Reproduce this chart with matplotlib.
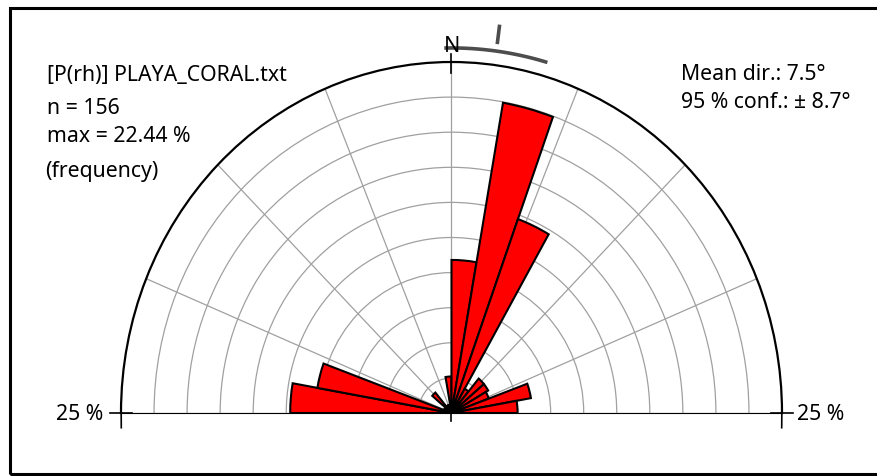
import numpy as np
import matplotlib
matplotlib.use("Agg")
import matplotlib.pyplot as plt
from matplotlib.patches import Rectangle

plt.rcParams['font.family'] = ['Noto Sans', 'DejaVu Sans']

# bin start angles (deg, -90 = W, 0 = N, 90 = E) and frequencies (%)
bin_start = [-90, -80, -70, -60, -50, -40, -30, -20, -10,
             0, 10, 20, 30, 40, 50, 60, 70, 80]
freq = [12.2, 10.3, 0.6, 0.6, 1.9, 0.6, 0.6, 0.6, 2.6,
        10.9, 22.44, 14.7, 2.0, 3.2, 3.2, 3.0, 6.1, 5.0]
bin_width = 10

file_label = "[P(rh)] PLAYA_CORAL.txt"
n_label = "n = 156"
max_label = "max = 22.44 %"
mean_dir = 7.5
conf = 8.7
r_max = 25

W, H = 878, 476
fig = plt.figure(figsize=(W / 100, H / 100), dpi=100)

# frame around the figure (open on the right side)
fig.patches.append(Rectangle((10 / W, 2.5 / H), 1.2, 466 / H, transform=fig.transFigure,
                             fill=False, edgecolor='black', linewidth=2.2, clip_on=False))

# half rose: matplotlib pads the half wedge to a square, so the half circle
# uses the middle half of the axes height (centre at y=413 px, top at y=62 px)
cx, cy, rx, ry = 451.5, 413, 330.5, 351
ax = fig.add_axes([(cx - rx) / W, (H - cy - ry / 2) / H, 2 * rx / W, 2 * ry / H],
                  projection='polar')
ax.set_theta_zero_location('N')
ax.set_theta_direction(-1)
ax.set_thetamin(-90)
ax.set_thetamax(90)
ax.set_aspect('auto')
ax.set_ylim(0, r_max)

theta = np.radians(bin_start)
ax.bar(theta, freq, width=np.radians(bin_width), align='edge', color='red',
       edgecolor='black', linewidth=1.5, zorder=3)

ax.set_thetagrids(np.arange(-90, 91, 22.5), labels=[])
ax.set_rgrids(np.arange(2.5, 25, 2.5), labels=[])
ax.grid(True, color='#a0a0a0', linewidth=0.9)
ax.spines['polar'].set_linewidth(1.6)
ax.spines['start'].set_visible(False)
ax.spines['end'].set_visible(False)
ax.spines['inner'].set_visible(False)
ax.tick_params(axis='both', length=0, pad=0)

# tick crosses at N, W, E and below the centre
kw = dict(color='black', linewidth=1.2, clip_on=False, zorder=4)
ax.plot([0, 0], [24.2, 25.6], **kw)
for side in (-1, 1):
    ax.plot([side * np.pi / 2] * 2, [24.2, 25.8], **kw)
    ax.plot([side * np.radians(88.6), side * np.radians(92.4)], [25, 25], **kw)
ax.plot([np.pi, np.pi], [0, 0.6], **kw)

# mean direction and 95 % confidence arc
arc = np.radians(np.linspace(mean_dir - conf, mean_dir + conf, 50))
ax.plot(arc, np.full_like(arc, 26.0), color='#4d4d4d', linewidth=2.6, clip_on=False,
        solid_capstyle='butt')
ax.plot(np.radians([mean_dir, mean_dir]), [26.5, 27.9], color='#4d4d4d', linewidth=2.6,
        clip_on=False, solid_capstyle='butt')

fs = 15.3
fig.text(452 / W, 1 - 47 / H, "N", fontsize=15.5, ha='center', va='center')
fig.text(47 / W, 1 - 75 / H, file_label, fontsize=fs, va='center')
fig.text(47 / W, 1 - 108 / H, n_label, fontsize=fs, va='center')
fig.text(47 / W, 1 - 136 / H, max_label, fontsize=fs, va='center')
fig.text(45 / W, 1 - 171 / H, "(frequency)", fontsize=fs, va='center')
fig.text(681 / W, 1 - 74 / H, f"Mean dir.: {mean_dir}°", fontsize=fs, va='center')
fig.text(681 / W, 1 - 102 / H, f"95 % conf.: ± {conf}°", fontsize=fs, va='center')
fig.text(103 / W, 1 - 415 / H, f"{r_max} %", fontsize=fs, ha='right', va='center')
fig.text(797 / W, 1 - 415 / H, f"{r_max} %", fontsize=fs, ha='left', va='center')

fig.savefig("out.png", dpi=100)
plt.close(fig)
